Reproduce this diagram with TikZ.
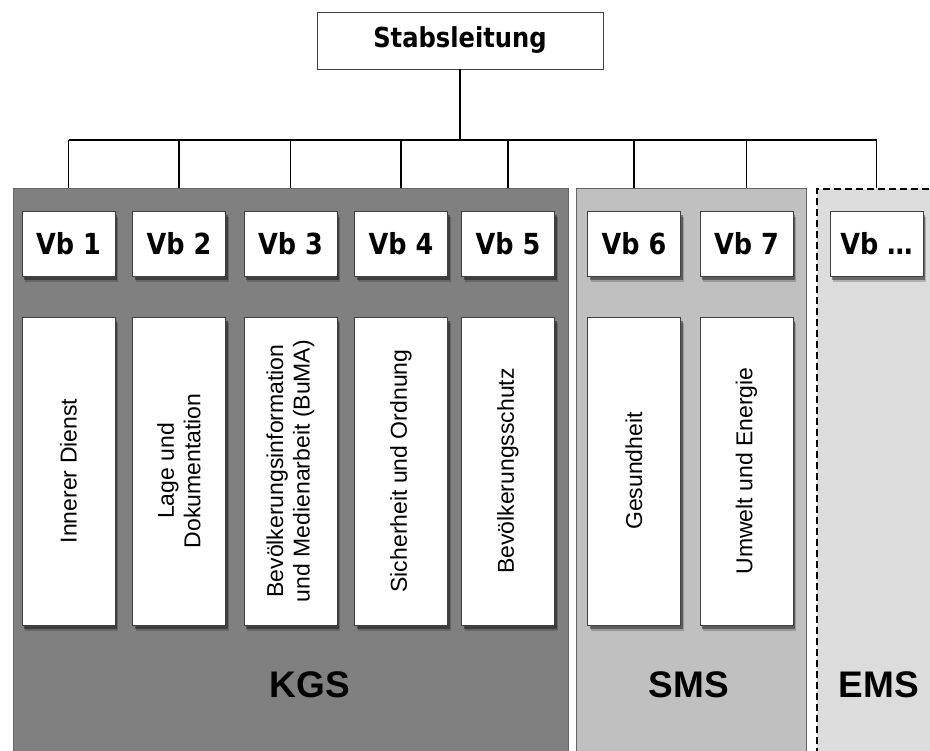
\documentclass[tikz,border=0pt]{standalone}
\usepackage{fontspec}
\setmainfont{Liberation Sans}
\newfontfamily\headfont{DejaVu Sans Bold}[FakeStretch=0.88]
\usepackage{tikz}
\usetikzlibrary{shadows}
\definecolor{kgsgray}{HTML}{808080}
\definecolor{smsgray}{HTML}{C0C0C0}
\definecolor{emsgray}{HTML}{DCDCDC}
\tikzset{
  vbbox/.style={draw=black!75, line width=0.8pt, fill=white, minimum width=93pt, minimum height=65pt, inner sep=0pt,
    font=\headfont\fontsize{29}{34}\selectfont,
    general shadow={shadow xshift=3pt, shadow yshift=-6pt, fill=black, opacity=0.2},
    general shadow={shadow xshift=2pt, shadow yshift=-4pt, fill=black, opacity=0.4}},
  dutybox/.style={vbbox, minimum height=308pt},
  dutytext/.style={rotate=90, align=center, inner sep=0pt, font=\fontsize{23}{26.5}\selectfont},
  groupbox/.style={draw=black!60, line width=0.8pt, anchor=north west, inner sep=0pt, minimum height=600pt},
  grouplabel/.style={font=\bfseries\fontsize{37}{42}\selectfont},
  link/.style={line width=1.1pt}
}
\begin{document}
\begin{tikzpicture}[x=1pt, y=-1pt]
\clip (0,0) rectangle (930,751);

\node[groupbox, fill=kgsgray, minimum width=555pt] (kgs) at (13,188) {};
\node[groupbox, fill=smsgray, minimum width=230pt] (sms) at (576,188) {};
\node[groupbox, fill=emsgray, minimum width=130pt, draw=black, line width=1.6pt, dash pattern=on 7pt off 4pt] (ems) at (816,188) {};

\node[draw=black!75, line width=0.8pt, minimum width=286pt, minimum height=57pt,
  font=\headfont\fontsize{27.5}{32}\selectfont] (stab) at (460,40.5) {Stabsleitung};
\coordinate (bus) at (460,140);

\node[vbbox] (vb1) at (68.5,243.5) {Vb 1};
\node[vbbox] (vb2) at (179,243.5) {Vb 2};
\node[vbbox] (vb3) at (290.5,243.5) {Vb 3};
\node[vbbox] (vb4) at (401,243.5) {Vb 4};
\node[vbbox] (vb5) at (508,243.5) {Vb 5};
\node[vbbox] (vb6) at (634,243.5) {Vb 6};
\node[vbbox] (vb7) at (746.5,243.5) {Vb 7};
\node[vbbox] (vbx) at (876.5,243.5) {Vb \dots};

\draw[link] (stab) -- (stab |- bus);
\draw[link] (vb1 |- bus) -- (vbx |- bus);
\draw[link] (vb1 |- bus) -- (vb1 |- kgs.north);
\draw[link] (vb2 |- bus) -- (vb2 |- kgs.north);
\draw[link] (vb3 |- bus) -- (vb3 |- kgs.north);
\draw[link] (vb4 |- bus) -- (vb4 |- kgs.north);
\draw[link] (vb5 |- bus) -- (vb5 |- kgs.north);
\draw[link] (vb6 |- bus) -- (vb6 |- sms.north);
\draw[link] (vb7 |- bus) -- (vb7 |- sms.north);
\draw[link] (vbx |- bus) -- (vbx |- ems.north);

\node[dutybox] (d1) at (68.5,471) {};
\node[dutybox] (d2) at (179,471) {};
\node[dutybox] (d3) at (290.5,471) {};
\node[dutybox] (d4) at (401,471) {};
\node[dutybox] (d5) at (508,471) {};
\node[dutybox] (d6) at (634,471) {};
\node[dutybox] (d7) at (746.5,471) {};
\node[dutytext] (t1) at (d1) {Innerer Dienst};
\node[dutytext] (t2) at (d2) {Lage und\\Dokumentation};
\node[dutytext] (t3) at (d3) {Bevölkerungsinformation\\und Medienarbeit (BuMA)};
\node[dutytext] (t4) at (d4) {Sicherheit und Ordnung};
\node[dutytext] (t5) at (d5) {Bevölkerungsschutz};
\node[dutytext] (t6) at (d6) {Gesundheit};
\node[dutytext] (t7) at (d7) {Umwelt und Energie};

\node[grouplabel] (kgslabel) at (310,685) {KGS};
\node[grouplabel] (smslabel) at (689,685) {SMS};
\node[grouplabel] (emslabel) at (879,685) {EMS};
\end{tikzpicture}
\end{document}
